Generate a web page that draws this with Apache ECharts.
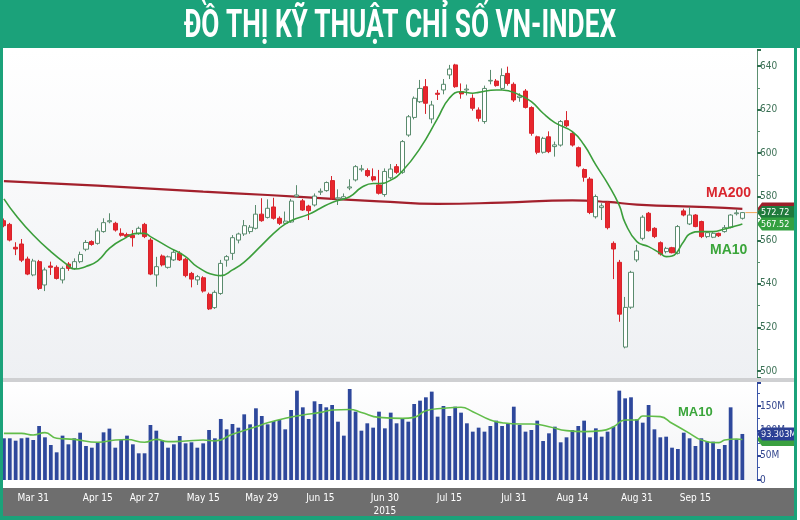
<!DOCTYPE html>
<html><head><meta charset="utf-8">
<script src="https://cdn.jsdelivr.net/npm/echarts@6/dist/echarts.min.js"></script>
<style>html,body{margin:0;padding:0;background:#fff}#c{width:800px;height:520px}</style>
</head><body><div id="c"></div>
<script>
const dates = [
'Mar 24','Mar 25','Mar 26','Mar 27','Mar 30','Mar 31',
'Apr 1','Apr 2','Apr 3','Apr 6','Apr 7','Apr 8','Apr 9','Apr 10','Apr 13','Apr 14','Apr 15','Apr 16','Apr 17','Apr 20','Apr 21','Apr 22','Apr 23','Apr 24','Apr 27',
'May 4','May 5','May 6','May 7','May 8','May 11','May 12','May 13','May 14','May 15','May 18','May 19','May 20','May 21','May 22','May 25','May 26','May 27','May 28','May 29',
'Jun 1','Jun 2','Jun 3','Jun 4','Jun 8','Jun 9','Jun 10','Jun 11','Jun 12','Jun 15','Jun 16','Jun 17','Jun 18','Jun 19','Jun 22','Jun 23','Jun 24','Jun 25','Jun 26','Jun 29','Jun 30',
'Jul 1','Jul 2','Jul 3','Jul 6','Jul 7','Jul 8','Jul 9','Jul 10','Jul 13','Jul 14','Jul 15','Jul 16','Jul 17','Jul 20','Jul 21','Jul 22','Jul 23','Jul 27','Jul 28','Jul 29','Jul 30','Jul 31',
'Aug 3','Aug 4','Aug 5','Aug 6','Aug 7','Aug 10','Aug 11','Aug 12','Aug 13','Aug 14','Aug 17','Aug 18','Aug 19','Aug 20','Aug 21','Aug 24','Aug 25','Aug 26','Aug 27','Aug 28','Aug 31',
'Sep 1','Sep 3','Sep 4','Sep 7','Sep 8','Sep 9','Sep 10','Sep 11','Sep 14','Sep 15','Sep 16','Sep 17','Sep 18','Sep 21','Sep 22','Sep 23','Sep 24','Sep 25'];

const tickLabels = ['Mar 31','Apr 15','Apr 27','May 15','May 29','Jun 15','Jun 30','Jul 15','Jul 31','Aug 14','Aug 31','Sep 15'];
const yearLabel = '2015';

const open = [569.0,567.3,556.8,558.3,551.4,544.1,550.2,539.5,548.2,547.6,541.8,549.1,547.1,550.2,555.9,559.4,558.6,564.0,568.5,567.8,
563.2,562.6,562.3,563.2,567.3,560.1,544.1,552.8,547.6,551.0,554.0,551.3,544.8,541.8,542.8,535.2,529.1,535.6,550.9,554.0,
560.1,562.9,564.0,565.5,572.0,570.5,575.3,570.1,567.8,568.4,580.2,578.1,575.7,576.2,582.1,582.8,587.4,579.0,579.2,584.0,
587.7,592.4,592.0,589.2,585.4,581.0,588.7,593.8,591.2,608.3,616.4,623.6,630.5,615.7,627.5,629.0,635.9,640.5,628.2,629.0,
625.2,619.8,614.5,633.1,633.1,629.7,636.6,631.6,625.5,628.5,620.9,607.5,600.4,607.5,603.0,603.7,614.9,609.1,602.5,592.5,
588.1,570.8,575.0,577.4,558.6,549.9,511.0,529.3,551.0,560.9,572.4,565.5,558.9,554.8,556.6,554.0,573.5,567.5,571.6,568.6,
561.7,561.4,563.2,564.0,566.0,572.2,570.1];
const close = [566.7,560.1,556.0,550.9,544.5,550.5,537.9,546.4,547.6,542.5,547.1,547.1,550.2,553.5,559.0,558.1,564.3,568.1,569.0,564.7,
562.3,561.8,561.2,565.5,561.7,544.5,547.9,548.7,552.4,554.5,551.0,543.8,542.2,543.3,536.7,528.5,536.1,549.4,552.5,561.2,
562.9,566.7,566.0,572.0,569.0,574.7,570.1,567.8,568.8,578.0,580.8,573.9,573.6,580.3,582.5,586.5,579.3,579.5,580.0,584.5,
593.8,592.8,589.7,587.7,581.6,591.6,592.7,591.2,605.3,616.7,625.2,629.7,622.9,622.1,627.0,631.6,638.6,630.5,627.2,629.4,
620.6,616.0,629.7,633.4,631.0,635.6,632.0,624.4,626.2,621.0,609.1,600.4,606.8,600.7,603.8,614.5,612.6,603.7,594.1,588.9,
572.8,580.1,575.8,565.8,556.0,526.1,529.2,545.3,555.1,570.6,564.4,561.7,553.7,556.3,554.3,566.3,571.6,571.6,566.3,561.7,
563.5,563.2,562.1,565.8,571.6,572.6,572.72];
const low = [566.0,559.5,553.2,550.0,544.0,543.5,537.2,536.7,544.1,542.0,540.2,546.0,546.5,549.5,555.0,557.5,558.0,563.5,567.8,564.0,
561.7,561.0,557.1,562.5,561.0,544.0,538.7,548.0,547.0,550.5,550.5,543.0,538.4,539.5,536.0,528.0,528.5,535.0,547.9,551.0,
558.6,562.0,563.0,565.0,568.5,570.0,569.5,567.0,567.0,568.0,579.5,573.5,569.3,575.5,580.8,582.3,578.5,576.2,578.5,583.0,
587.0,591.5,589.0,587.0,581.0,580.0,588.0,590.5,590.5,607.5,615.5,623.0,618.0,613.7,624.4,627.0,634.0,630.0,625.0,626.5,
619.5,614.5,613.5,631.6,630.5,629.0,631.0,623.5,623.6,620.5,608.0,599.5,599.8,600.0,598.4,603.0,612.0,603.0,593.5,586.9,
572.0,570.0,569.3,565.0,542.2,522.6,510.4,528.5,550.0,560.0,564.0,561.0,553.0,554.0,554.0,553.5,571.0,567.0,566.0,561.0,
561.0,561.0,561.5,563.5,565.5,571.4,569.5];
const high = [570.0,568.0,559.1,560.6,552.5,551.5,551.0,547.5,550.2,548.5,548.0,550.0,551.7,554.8,560.1,560.0,565.5,570.1,572.4,568.5,
565.5,563.5,564.7,566.3,568.0,561.0,552.4,553.5,553.0,555.9,555.0,552.0,545.5,544.1,543.5,536.0,537.0,551.0,553.2,562.4,
563.5,569.3,567.0,576.2,579.3,578.8,579.5,571.0,573.2,579.0,585.3,579.0,576.3,581.5,583.8,587.0,589.5,583.4,581.5,588.0,
594.5,594.6,593.0,593.0,592.3,593.0,595.0,595.0,606.0,617.5,626.0,633.6,634.0,624.0,629.0,634.0,640.5,641.0,632.0,631.5,
627.0,621.0,631.0,638.2,634.0,638.9,639.7,632.5,627.5,629.4,621.5,608.0,607.5,610.0,605.3,615.2,619.3,610.0,603.0,593.0,
589.0,581.0,577.0,578.0,559.5,551.0,534.0,546.0,557.9,571.5,573.0,566.0,559.5,557.0,557.0,567.0,574.5,575.3,572.0,569.0,
564.0,564.0,563.5,567.0,572.0,574.2,573.0];

// volume in millions
const volume = [84.5,84.5,79.7,84.5,85.8,81.1,109.5,86.5,70.9,56.1,89.9,72.3,84.5,95.9,68.9,65.5,75.7,96.6,104.1,65.5,
81.1,89.9,72.3,54.1,54.1,111.5,100.0,79.7,65.5,72.3,89.2,74.3,76.4,65.5,74.3,101.4,84.5,123.7,102.7,113.5,
106.1,133.1,112.8,145.3,129.7,112.8,119.6,121.6,102.7,141.9,181.1,147.3,123.7,159.5,154.1,147.3,152.0,118.2,89.9,184.5,
138.5,100.0,114.9,106.1,138.5,104.7,136.5,114.9,125.0,118.2,154.1,160.8,167.6,179.1,128.4,150.0,129.7,148.6,136.5,114.9,
98.0,106.1,98.0,109.5,120.3,109.5,114.9,148.6,111.5,98.0,101.4,120.3,79.0,94.6,108.1,76.4,86.5,101.4,109.5,120.3,
86.5,104.7,87.8,98.0,108.1,181.1,165.5,167.6,123.0,116.2,152.0,102.7,86.5,87.8,65.5,62.8,95.9,84.5,68.9,84.5,
77.7,77.7,62.8,70.9,147.3,82.4,93.303];

const ma10 = [[0,579.0],[2,571.6],[5,562.4],[8,554.8],[11,548.4],[12,546.8],[14,548.0],[16,550.6],[18,556.3],[20,560.0],
[23,563.2],[24,563.2],[25,561.7],[28,557.0],[31,552.5],[33,547.8],[36,544.1],[37,543.8],[39,546.4],[41,550.0],
[44,557.8],[47,565.5],[49,569.0],[52,571.9],[54,574.7],[56,577.4],[59,580.0],[61,584.2],[63,586.1],[64,586.1],
[66,587.6],[68,591.8],[71,602.2],[74,616.0],[76,625.2],[78,628.2],[80,627.5],[81,627.9],[84,629.0],[85,629.0],
[88,626.7],[90,623.6],[92,618.3],[94,614.0],[97,609.9],[99,603.7],[101,594.6],[103,586.1],[105,576.0],[106,568.0],
[108,559.4],[110,557.1],[112,554.0],[113,552.5],[114,552.8],[116,559.5],[117,562.9],[119,564.0],[121,564.0],[123,565.2],
[125,566.7],[126,567.52]];
const ma200 = [[0,587.2],[16,585.1],[34,582.3],[45,580.8],[56,579.0],[64,577.9],[74,576.7],[85,577.3],[97,578.3],[103,577.6],
[108,576.4],[120,575.2],[126,574.4]];
const volMa10 = [[0,94.6],[3,94.6],[5,91.2],[7,96.0],[9,84.5],[12,82.4],[16,76.4],[19,81.0],[21,82.0],[24,76.4],
[26,82.4],[28,77.7],[31,79.0],[34,81.0],[36,79.0],[39,92.6],[43,108.0],[45,116.0],[48,125.0],[51,131.8],
[54,137.0],[56,141.9],[59,143.0],[61,137.0],[64,127.0],[68,125.0],[70,127.0],[72,140.5],[75,145.3],[78,147.3],
[80,138.5],[83,121.6],[85,116.2],[88,113.5],[90,113.5],[93,108.1],[96,100.0],[99,98.0],[102,100.0],[104,108.0],
[106,121.6],[108,121.6],[109,129.7],[112,128.4],[114,114.9],[117,94.6],[119,81.0],[122,75.7],[123,81.0],[125,83.0],[126,82.0]];

const GREEN = '#1ba27a';
const cats = dates.concat([' ', '  ']);
const candles = open.map((o, i) => [o, close[i], low[i], high[i]]);
const labelSet = new Set(tickLabels);
const condensed = '"DejaVu Sans Condensed", "DejaVu Sans", sans-serif';

const chart = echarts.init(document.getElementById('c'));
const option = {
  animation: false,
  backgroundColor: '#ffffff',
  grid: [
    {left: 1, right: 43, top: 50, height: 328, show: true, borderWidth: 0,
     backgroundColor: {type: 'linear', x: 0, y: 0, x2: 0, y2: 1,
       colorStops: [{offset: 0, color: '#ffffff'}, {offset: 1, color: '#eef0f3'}]}},
    {left: 1, right: 43, top: 383, height: 97, show: true, borderWidth: 0,
     backgroundColor: {type: 'linear', x: 0, y: 0, x2: 0, y2: 1,
       colorStops: [{offset: 0, color: '#ffffff'}, {offset: 1, color: '#f2f3f5'}]}}
  ],
  xAxis: [
    {type: 'category', gridIndex: 0, data: cats, boundaryGap: true,
     axisLine: {show: false}, axisTick: {show: false}, axisLabel: {show: false}, splitLine: {show: false}},
    {type: 'category', gridIndex: 1, data: cats, boundaryGap: true, z: 10,
     axisLine: {show: false}, axisTick: {show: false}, splitLine: {show: false},
     axisLabel: {
       show: true, color: '#ffffff', fontSize: 10, fontFamily: condensed, margin: 12, lineHeight: 13,
       interval: (idx, val) => labelSet.has(val),
       formatter: (val) => val === 'Jun 30' ? val + '\n' + yearLabel : val
     }}
  ],
  yAxis: [
    {type: 'value', gridIndex: 0, position: 'right', min: 496.8, max: 647.34, splitNumber: 7,
     minInterval: 20, maxInterval: 20,
     axisLine: {show: true, lineStyle: {color: '#5b8f70', width: 1}},
     axisTick: {show: true, inside: false, length: 4, lineStyle: {color: '#2f6e4e', width: 2}},
     minorTick: {show: true, splitNumber: 2, length: 3, lineStyle: {color: '#5b8f70'}},
     splitLine: {show: false},
     axisLabel: {color: '#3b7055', fontSize: 10, fontFamily: condensed, margin: 3,
                 showMinLabel: false, showMaxLabel: false}},
    {type: 'value', gridIndex: 1, position: 'right', min: 0, max: 196.6, splitNumber: 4,
     minInterval: 50, maxInterval: 50,
     axisLine: {show: true, lineStyle: {color: '#3b56a8', width: 1}},
     axisTick: {show: true, length: 4, lineStyle: {color: '#2e4599', width: 2}},
     minorTick: {show: true, splitNumber: 2, length: 3, lineStyle: {color: '#3b56a8'}},
     splitLine: {show: false},
     axisLabel: {color: '#34478f', fontSize: 10, fontFamily: condensed, margin: 3, showMaxLabel: false,
                 formatter: v => v === 0 ? '0' : v + 'M'}}
  ],
  series: [
    {type: 'line', name: 'MA200', xAxisIndex: 0, yAxisIndex: 0, data: ma200, smooth: true,
     showSymbol: false, lineStyle: {color: '#a3202c', width: 2.2}, z: 3},
    {type: 'candlestick', name: 'VN-INDEX', xAxisIndex: 0, yAxisIndex: 0, data: candles, barWidth: '78%',
     itemStyle: {color: '#ffffff', color0: '#e8262d', borderColor: '#5a8b6e', borderColor0: '#d8232b', borderWidth: 1}, z: 4},
    {type: 'line', name: 'MA10', xAxisIndex: 0, yAxisIndex: 0, data: ma10, smooth: true,
     showSymbol: false, lineStyle: {color: '#3b9e3b', width: 1.6}, z: 5},
    {type: 'bar', name: 'Volume', xAxisIndex: 1, yAxisIndex: 1, data: volume, barWidth: '64%',
     itemStyle: {color: '#2e489c'}, z: 3},
    {type: 'line', name: 'Vol MA10', xAxisIndex: 1, yAxisIndex: 1, data: volMa10, smooth: true,
     showSymbol: false, lineStyle: {color: '#62bd4a', width: 1.6}, z: 5}
  ]
};
chart.setOption(option);

function tag(y, txt, bg) {
  return {type: 'group', z: 50, children: [
    {type: 'polygon', shape: {points: [[757, y], [762, y - 6.5], [794, y - 6.5], [794, y + 6.5], [762, y + 6.5]]},
     style: {fill: bg}},
    {type: 'text', x: 761, y: y + 0.5, style: {text: txt, fill: '#ffffff', font: '9px ' + condensed,
      textVerticalAlign: 'middle', verticalAlign: 'middle'}}
  ]};
}
const last = close.length - 1;
const lastX = chart.convertToPixel({xAxisIndex: 0}, last);
const pC = chart.convertToPixel({yAxisIndex: 0}, close[last]);
const pM200 = chart.convertToPixel({yAxisIndex: 0}, ma200[ma200.length - 1][1]);
const pM10 = chart.convertToPixel({yAxisIndex: 0}, ma10[ma10.length - 1][1]);
const pV = chart.convertToPixel({yAxisIndex: 1}, volume[last]);
const pVM = chart.convertToPixel({yAxisIndex: 1}, volMa10[volMa10.length - 1][1]);

chart.setOption({graphic: [
  {type: 'rect', z: 40, shape: {x: 0, y: 0, width: 800, height: 48}, style: {fill: GREEN}},
  {type: 'text', z: 41, x: 400, y: 27, scaleX: 0.69, scaleY: 1,
   style: {text: 'ĐỒ THỊ KỸ THUẬT CHỈ SỐ VN-INDEX', fill: '#ffffff', font: 'bold 38px Roboto',
           textAlign: 'center', textVerticalAlign: 'middle', verticalAlign: 'middle'}},
  {type: 'rect', z: 40, shape: {x: 0, y: 48, width: 3, height: 472}, style: {fill: GREEN}},
  {type: 'rect', z: 40, shape: {x: 794, y: 48, width: 3, height: 472}, style: {fill: GREEN}},
  {type: 'rect', z: 40, shape: {x: 0, y: 516, width: 797, height: 4}, style: {fill: GREEN}},
  {type: 'rect', z: 1, shape: {x: 3, y: 378, width: 791, height: 4}, style: {fill: '#cfd0d2'}},
  {type: 'rect', z: 1, shape: {x: 3, y: 488, width: 791, height: 28}, style: {fill: '#6e6e6e'}},
  {type: 'line', z: 6, shape: {x1: lastX + 3, y1: pC, x2: 757, y2: pC}, style: {stroke: '#f2a65a', lineWidth: 1}},
  tag(pM200, '', '#9c1f2a'),
  tag(pC, close[last].toFixed(2), '#1f7a3c'),
  tag(pM10, ma10[ma10.length - 1][1].toFixed(2), '#33a040'),
  tag(pVM, '', '#3aa040'),
  tag(pV, volume[last].toFixed(3) + 'M', '#2b3f96'),
  {type: 'text', z: 45, x: 706, y: 193, style: {text: 'MA200', fill: '#d9262e', font: 'bold 14px "Liberation Sans", Arial',
    textVerticalAlign: 'middle', verticalAlign: 'middle'}},
  {type: 'text', z: 45, x: 710, y: 250, style: {text: 'MA10', fill: '#3aa53a', font: 'bold 14px "Liberation Sans", Arial',
    textVerticalAlign: 'middle', verticalAlign: 'middle'}},
  {type: 'text', z: 45, x: 678, y: 412, style: {text: 'MA10', fill: '#3aa53a', font: 'bold 13px "Liberation Sans", Arial',
    textVerticalAlign: 'middle', verticalAlign: 'middle'}}
]});
</script>
</body></html>
